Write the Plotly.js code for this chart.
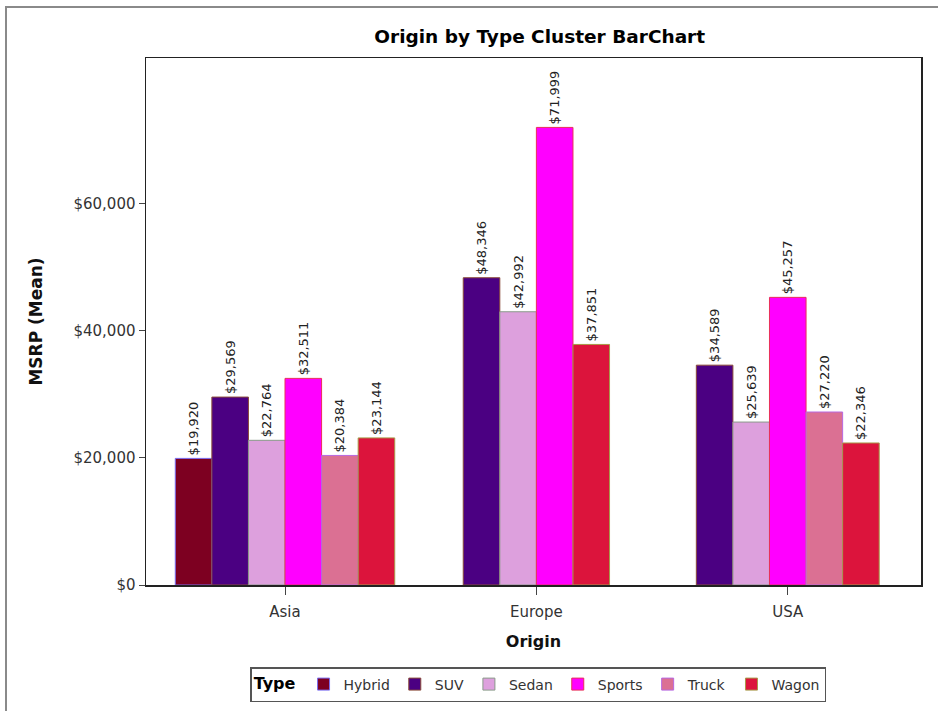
<!DOCTYPE html>
<html>
<head>
<meta charset="utf-8">
<script src="https://cdn.plot.ly/plotly-3.0.1.min.js"></script>
<style>
  html, body { margin: 0; padding: 0; background: #fff; }
  #wrap { position: relative; width: 938px; height: 711px; overflow: hidden; }
  #chart { width: 938px; height: 711px; }
  #frame { position: absolute; left: 5px; top: 6px; width: 1000px; height: 1000px;
           border: 2px solid #8a8a8a; pointer-events: none; }
</style>
</head>
<body>
<div id="wrap">
  <div id="chart"></div>
  <div id="frame"></div>
</div>
<script>
// ---- data ----
const origins = ['Asia', 'Europe', 'USA'];
const typeNames = ['Hybrid', 'SUV', 'Sedan', 'Sports', 'Truck', 'Wagon'];
const hybridMsrp = [19920, null, null];
const suvMsrp    = [29569, 48346, 34589];
const sedanMsrp  = [22764, 42992, 25639];
const sportsMsrp = [32511, 71999, 45257];
const truckMsrp  = [20384, null, 27220];
const wagonMsrp  = [23144, 37851, 22346];
const yTickVals  = [0, 20000, 40000, 60000];

// ---- styles ----
const fillColors = ['#7d0021', '#4b0082', '#dda0dd', '#ff00ff', '#db7093', '#dc143c'];
const lineColors = ['#7a6cf0', '#8a4a3a', '#8a9a8a', '#e8305a', '#b868e0', '#a89848'];

const series = [hybridMsrp, suvMsrp, sedanMsrp, sportsMsrp, truckMsrp, wagonMsrp];
const barW = 0.1455;
const present = origins.map((o, i) => series.map(s => s[i] != null));

const traces = series.map((vals, t) => {
  const xs = [], ys = [], offs = [];
  vals.forEach((v, i) => {
    if (v == null) return;
    const n = present[i].filter(Boolean).length;
    const k = present[i].slice(0, t).filter(Boolean).length;
    xs.push(origins[i]);
    ys.push(v);
    offs.push((k - n / 2) * barW);
  });
  return {
    type: 'bar',
    name: typeNames[t],
    x: xs,
    y: ys,
    offset: offs,
    width: barW,
    marker: { color: fillColors[t], line: { color: lineColors[t], width: 1 } },
    texttemplate: '$%{y:,.0f}',
    textposition: 'outside',
    textangle: -90,
    constraintext: 'none',
    textfont: { family: 'DejaVu Sans', size: 13, color: '#222' },
    cliponaxis: false,
    hoverinfo: 'skip'
  };
});

const layout = {
  width: 938,
  height: 711,
  paper_bgcolor: '#fff',
  plot_bgcolor: '#fff',
  barmode: 'overlay',
  margin: { l: 146, r: 17, t: 58, b: 126 },
  font: { family: 'DejaVu Sans', color: '#333' },
  title: {
    text: 'Origin by Type Cluster BarChart',
    font: { family: 'DejaVu Sans', size: 18.5, color: '#000', weight: 'bold' },
    x: 0.508, xref: 'paper', xanchor: 'center',
    y: 1 - 37 / 711, yref: 'container', yanchor: 'middle'
  },
  xaxis: {
    type: 'category',
    categoryorder: 'array',
    categoryarray: origins,
    range: [-0.553, 2.53],
    automargin: false,
    showline: true, mirror: true, linecolor: '#222', linewidth: 1.5,
    ticks: 'outside', ticklen: 8, tickcolor: '#444',
    ticklabelstandoff: 4,
    tickfont: { family: 'DejaVu Sans', size: 15, color: '#333' },
    showgrid: false, zeroline: false,
    title: { text: 'Origin', font: { family: 'DejaVu Sans', size: 16, color: '#111', weight: 'bold' }, standoff: 16 }
  },
  yaxis: {
    range: [0, 82920],
    tickvals: yTickVals,
    tickformat: '$,.0f',
    automargin: false,
    showline: true, mirror: true, linecolor: '#222', linewidth: 1.5,
    ticks: 'outside', ticklen: 6, tickcolor: '#444',
    tickfont: { family: 'DejaVu Sans', size: 15, color: '#333' },
    showgrid: false, zeroline: false,
    title: { text: 'MSRP (Mean)', font: { family: 'DejaVu Sans', size: 17, color: '#111', weight: 'bold' }, standoff: 26 }
  },
  showlegend: true,
  legend: {
    orientation: 'h',
    x: 0.506, xanchor: 'center',
    yref: 'container',
    y: 1 - 667 / 711, yanchor: 'top',
    bgcolor: '#fff',
    bordercolor: '#555', borderwidth: 1.5,
    font: { family: 'DejaVu Sans', size: 14, color: '#333' },
    title: { text: 'Type', side: 'left', font: { family: 'DejaVu Sans', size: 16, color: '#000', weight: 'bold' } },
    traceorder: 'normal',
    itemwidth: 30
  }
};

Plotly.newPlot('chart', traces, layout, { displayModeBar: false, staticPlot: true });
</script>
</body>
</html>
